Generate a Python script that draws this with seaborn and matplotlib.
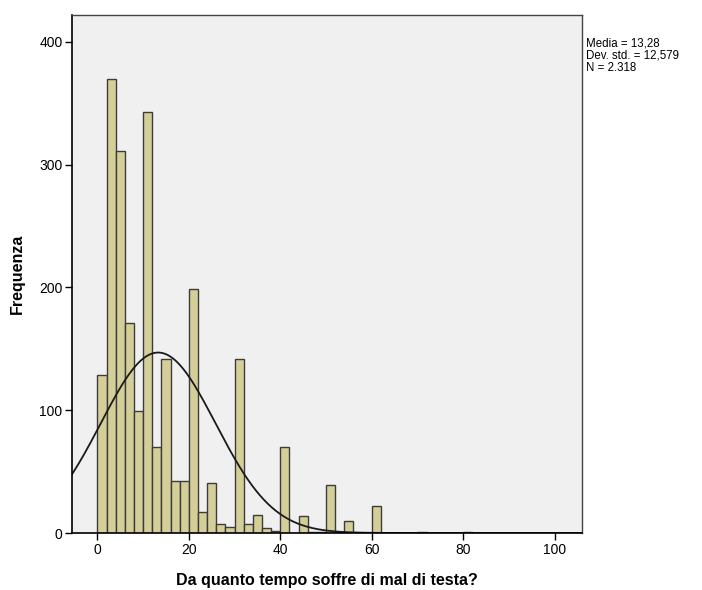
import numpy as np
import pandas as pd
import matplotlib
matplotlib.use("Agg")
import matplotlib.pyplot as plt
import seaborn as sns

sns.set_style("white")
plt.rcParams["font.family"] = ["Liberation Sans", "DejaVu Sans"]
plt.rcParams["text.color"] = "black"
plt.rcParams["axes.labelcolor"] = "black"
plt.rcParams["xtick.color"] = "black"
plt.rcParams["ytick.color"] = "black"

# bin left edges (width 2) and counts
bin_left = [0, 2, 4, 6, 8, 10, 12, 14, 16, 18, 20, 22, 24, 26, 28, 30, 32, 34,
            36, 38, 40, 42, 44, 46, 48, 50, 52, 54, 56, 58, 60, 62, 64, 66, 68,
            70, 72, 74, 76, 78, 80]
counts = [129, 370, 311, 171, 99, 343, 70, 142, 42, 42, 199, 17, 41, 7, 5, 142,
          7, 15, 4, 2, 70, 0, 14, 1, 1, 39, 1, 10, 0, 0, 22, 0, 0, 0, 0,
          1, 0, 0, 0, 0, 1]
mean_val = 13.28
sd_val = 12.579
n_val = 2318
bin_w = 2

df = pd.DataFrame({"x": np.array(bin_left) + bin_w / 2, "n": counts})

fig = plt.figure(figsize=(7.02, 5.9), dpi=100)
ax = fig.add_axes([0.103, 0.0966, 0.726, 0.878])
ax.set_facecolor("#f0f0f0")

sns.histplot(data=df, x="x", weights="n", binwidth=bin_w, binrange=(0, 82),
             color="#d4cf98", edgecolor="#3c3c3c", linewidth=1.0, alpha=1,
             ax=ax)

# normal curve scaled to counts
xs = np.linspace(-6, 106, 400)
ys = n_val * bin_w * np.exp(-0.5 * ((xs - mean_val) / sd_val) ** 2) / (sd_val * np.sqrt(2 * np.pi))
sns.lineplot(x=xs, y=ys, color="#1a1a1a", linewidth=1.3, ax=ax)

ax.set_xlim(-5.5, 106)
ax.set_ylim(0, 422)
ax.set_xticks([0, 20, 40, 60, 80, 100])
ax.set_yticks([0, 100, 200, 300, 400])
ax.tick_params(axis="both", direction="out", length=5, width=1, color="black",
               labelcolor="black", labelsize=10, bottom=True, left=True, pad=2)
for side in ["left", "bottom"]:
    ax.spines[side].set_color("black")
    ax.spines[side].set_linewidth(1.2)
for side in ["top", "right"]:
    ax.spines[side].set_color("#444444")
    ax.spines[side].set_linewidth(1.0)

ax.set_xlabel("Da quanto tempo soffre di mal di testa?", fontsize=11.5,
              fontweight="bold", labelpad=12, color="black")
ax.set_ylabel("Frequenza", fontsize=11.5, fontweight="bold", labelpad=10,
              color="black")

fig.text(0.835, 0.937, "Media = 13,28\nDev. std. = 12,579\nN = 2.318",
         fontsize=8.3, va="top", ha="left", linespacing=1.05, color="black")

fig.savefig("out.png", dpi=100)
